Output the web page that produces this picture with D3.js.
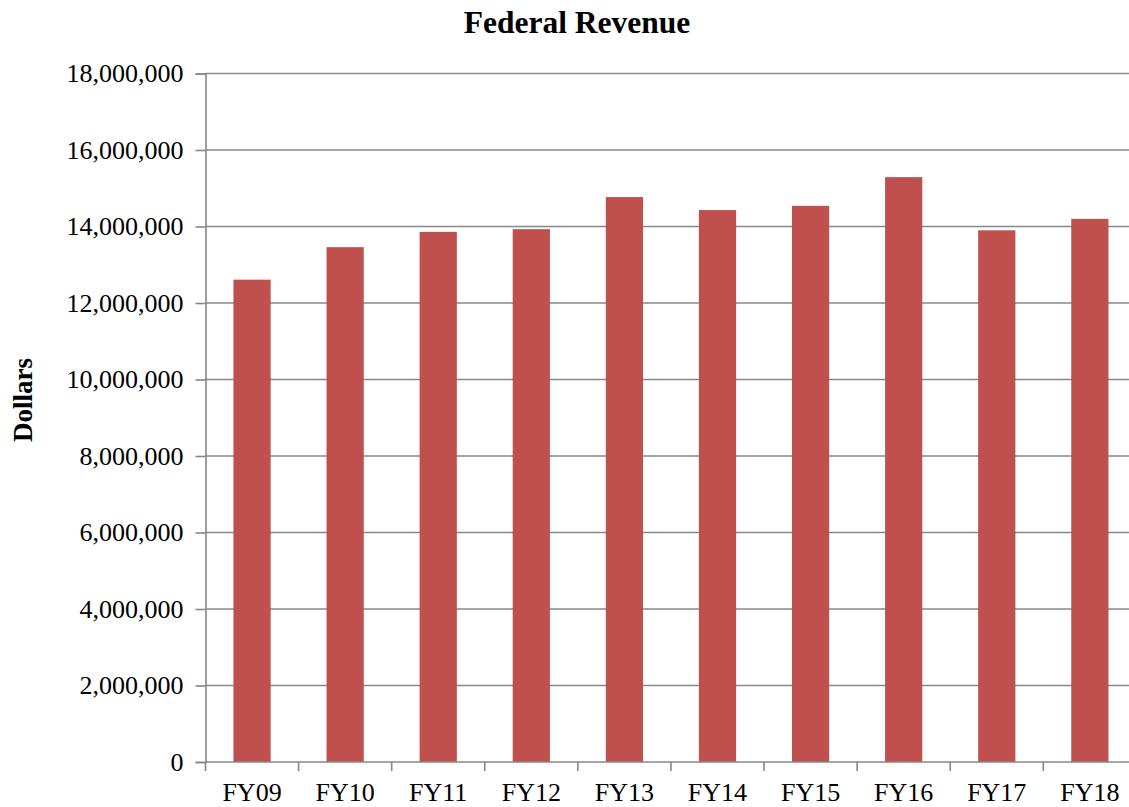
<!DOCTYPE html>
<html>
<head>
<meta charset="utf-8">
<script src="https://cdn.jsdelivr.net/npm/d3@7"></script>
<style>
  body { margin: 0; background: #fff; }
  svg { display: block; font-family: "Liberation Serif", "Times New Roman", serif; }
</style>
</head>
<body>
<svg id="chart"></svg>
<script>
// chart data
const years = ["FY09", "FY10", "FY11", "FY12", "FY13", "FY14", "FY15", "FY16", "FY17", "FY18"];
const revenue = [12610000, 13460000, 13860000, 13930000, 14770000, 14430000, 14540000, 15290000, 13900000, 14200000];
const yTicks = [0, 2000000, 4000000, 6000000, 8000000, 10000000, 12000000, 14000000, 16000000, 18000000];

(() => {
    const width = 1129;
    const height = 807;

    const svg = d3.select("#chart")
        .attr("width", width)
        .attr("height", height);

    const left = 205.5, right = 1136.4, top = 73.5, bottom = 762;

    const x = d3.scaleBand()
        .domain(years)
        .range([left, right])
        .paddingInner(0.6)
        .paddingOuter(0.3);

    const y = d3.scaleLinear()
        .domain([0, 18000000])
        .range([bottom, top]);

    const fmt = d3.format(",");

    // gridlines
    svg.append("g")
        .selectAll("line")
        .data(yTicks.filter(d => d > 0))
        .enter()
        .append("line")
        .attr("x1", left)
        .attr("x2", right)
        .attr("y1", d => y(d))
        .attr("y2", d => y(d))
        .attr("stroke", "#878787")
        .attr("stroke-width", 1.6);

    // bars
    svg.append("g")
        .selectAll("rect")
        .data(years)
        .enter()
        .append("rect")
        .attr("x", d => x(d))
        .attr("width", x.bandwidth())
        .attr("y", (d, i) => y(revenue[i]))
        .attr("height", (d, i) => bottom - y(revenue[i]))
        .attr("fill", "#C0504D");

    // y axis
    const yAxis = svg.append("g")
        .attr("transform", `translate(${left},0)`)
        .call(d3.axisLeft(y).tickValues(yTicks).tickFormat(fmt).tickSize(10).tickPadding(12));
    yAxis.select(".domain").attr("stroke", "#878787").attr("stroke-width", 1.6);
    yAxis.selectAll(".tick line").attr("stroke", "#878787").attr("stroke-width", 1.6);
    yAxis.selectAll("text")
        .attr("font-size", "26px")
        .attr("fill", "#000")
        .attr("font-family", "Liberation Serif, Times New Roman, serif");

    // x axis: ticks at band edges
    svg.append("line")
        .attr("x1", left)
        .attr("x2", right)
        .attr("y1", bottom)
        .attr("y2", bottom)
        .attr("stroke", "#878787")
        .attr("stroke-width", 1.6);

    svg.append("g")
        .selectAll("line")
        .data(years)
        .enter()
        .append("line")
        .attr("x1", d => x(d) - x.bandwidth() * 0.75)
        .attr("x2", d => x(d) - x.bandwidth() * 0.75)
        .attr("y1", bottom)
        .attr("y2", bottom + 9)
        .attr("stroke", "#878787")
        .attr("stroke-width", 1.6);

    svg.append("g")
        .selectAll("text")
        .data(years)
        .enter()
        .append("text")
        .attr("x", d => x(d) + x.bandwidth() / 2)
        .attr("y", 801)
        .attr("text-anchor", "middle")
        .attr("font-size", "26px")
        .text(d => d);

    // title
    svg.append("text")
        .attr("x", 577)
        .attr("y", 33)
        .attr("text-anchor", "middle")
        .attr("font-size", "31.5px")
        .attr("font-weight", "bold")
        .text("Federal Revenue");

    // y axis title
    svg.append("text")
        .attr("transform", "translate(32,400) rotate(-90)")
        .attr("text-anchor", "middle")
        .attr("font-size", "27px")
        .attr("font-weight", "bold")
        .text("Dollars");
})();
</script>
</body>
</html>
